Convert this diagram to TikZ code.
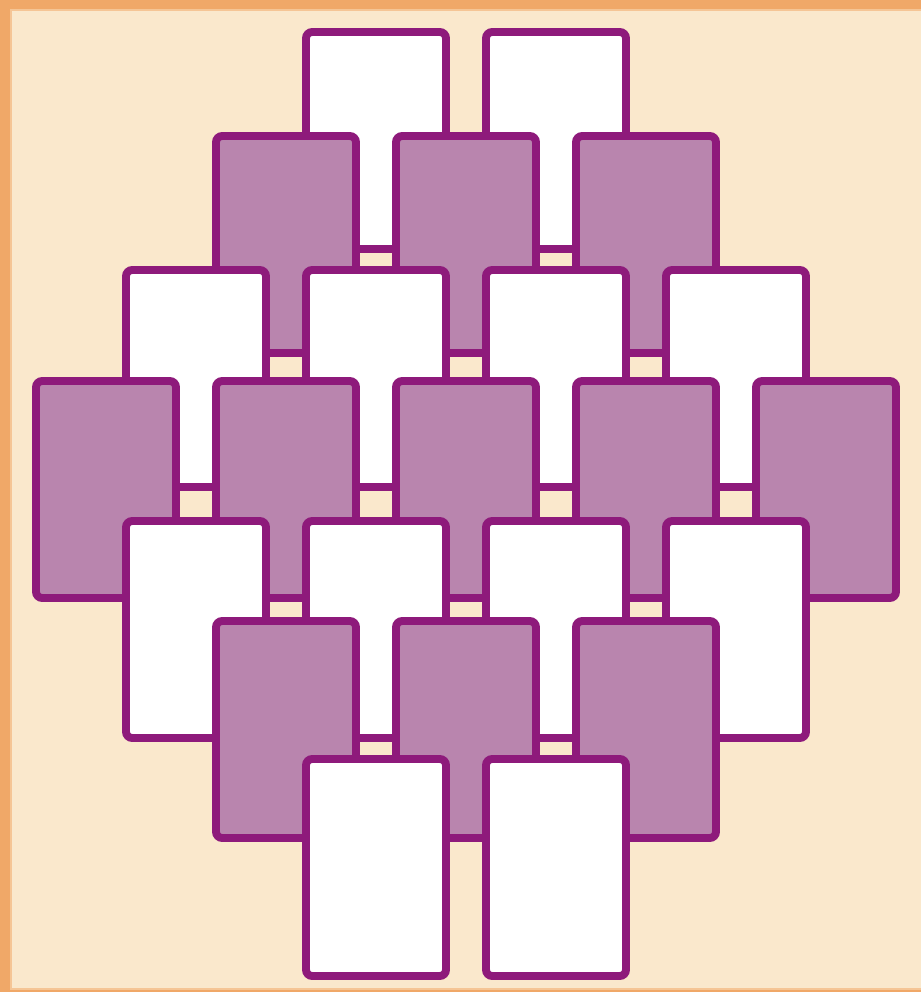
\documentclass[tikz,border=0pt]{standalone}
\definecolor{tileedge}{RGB}{142,26,123}
\definecolor{tilemauve}{RGB}{185,133,174}
\definecolor{paperbeige}{RGB}{250,232,204}
\definecolor{frameorange}{RGB}{240,168,104}
\tikzset{
  grid tile/.style={rectangle,draw=tileedge,line width=4.5pt,rounded corners=3.5pt,
    minimum width=2.8cm,minimum height=4.34cm,inner sep=0pt,outer sep=0pt},
  grid light/.style={fill=white},
  grid dark/.style={fill=tilemauve}
}
\begin{document}
\begin{tikzpicture}[x=0.02cm,y=-0.02cm]
  \useasboundingbox (0,0) rectangle (921,992);
  \fill[frameorange] (0,0) rectangle (921,992);
  \fill[frameorange!55!paperbeige] (10,9) rectangle (921,990);
  \fill[paperbeige] (12,11) rectangle (921,988);

  % rows from back to front
  \foreach \row/\top/\kind/\lefts in {1/28/light/{302,482},
      2/132/dark/{212,392,572}, 3/266/light/{122,302,482,662},
      4/377/dark/{32,212,392,572,752}, 5/517/light/{122,302,482,662},
      6/617/dark/{212,392,572}, 7/755/light/{302,482}}
    \foreach \left [count=\col] in \lefts
      \node[grid tile,grid \kind] (tile-\row-\col) at (\left+74,\top+112.5) {};
\end{tikzpicture}
\end{document}
